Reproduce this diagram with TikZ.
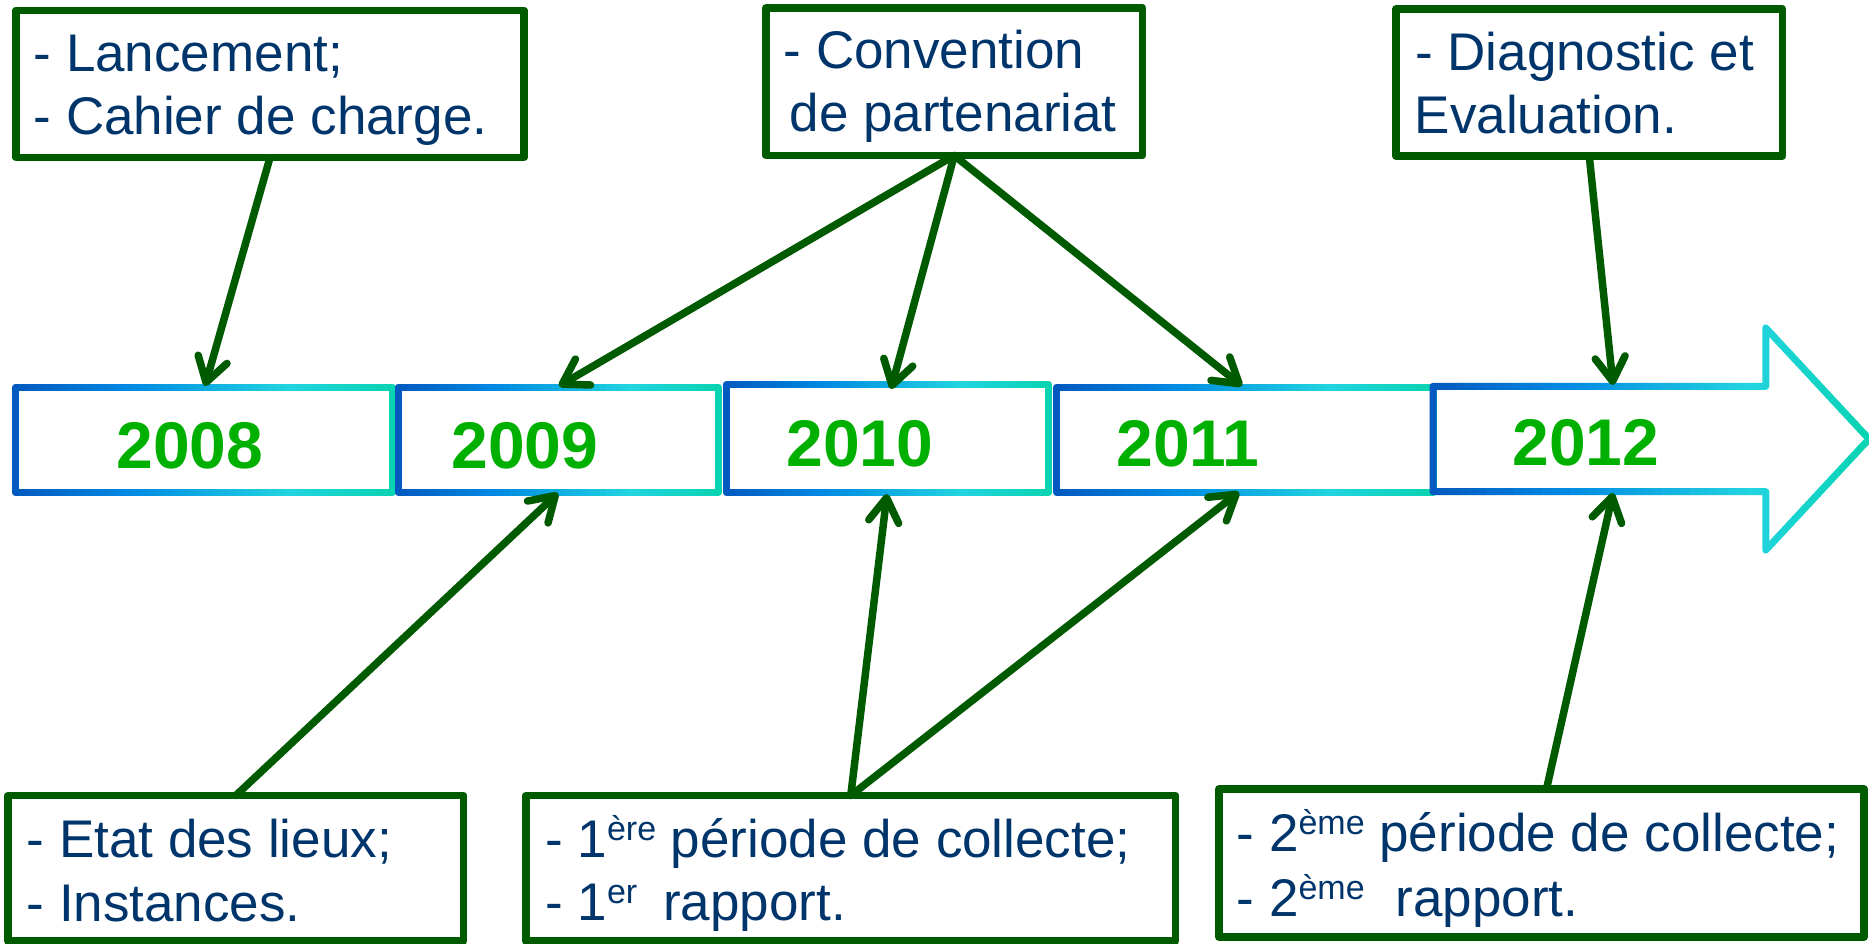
\documentclass[tikz,border=0pt]{standalone}
\usepackage{fontspec}
\setmainfont{Liberation Sans}
\usetikzlibrary{arrows.meta}
\definecolor{navy}{RGB}{0,53,107}
\definecolor{boxgreen}{RGB}{0,90,0}
\definecolor{yeargreen}{RGB}{0,176,0}
\definecolor{gA}{RGB}{0,88,190}
\definecolor{gB}{RGB}{0,136,226}
\definecolor{gC}{RGB}{34,212,224}
\definecolor{gD}{RGB}{8,212,176}
\newcommand\setgradcol[1]{%
  \ifdim #1pt<0.3pt
    \pgfmathsetmacro\gp{#1/0.3*100}\colorlet{gc}{gB!\gp!gA}%
  \else
    \ifdim #1pt<0.72pt
      \pgfmathsetmacro\gp{(#1-0.3)/0.42*100}\colorlet{gc}{gC!\gp!gB}%
    \else
      \pgfmathsetmacro\gp{(#1-0.72)/0.28*100}\colorlet{gc}{gD!\gp!gC}%
    \fi
  \fi}
\newcommand\gradstroke[3]{%
  \foreach \k in {0,...,47}{%
    \pgfmathsetmacro\gxa{#1+(#2-#1)/48*\k}%
    \pgfmathsetmacro\gxb{#1+(#2-#1)/48*(\k+1)+0.8}%
    \pgfmathsetmacro\gt{(\k+0.5)/48}%
    \setgradcol{\gt}%
    \begin{scope}
      \clip (\gxa,-20) rectangle (\gxb,960);
      \draw[tline] #3;
    \end{scope}
  }}
\newcommand\supx[1]{\raisebox{17pt}{\fontsize{34}{34}\selectfont #1}}
\begin{document}
\begin{tikzpicture}[x=1pt,y=-1pt,
  tline/.style={draw=gc, line width=7pt, line join=round},
  callout/.style={draw=boxgreen, fill=white, line width=7.5pt, line join=round,
    inner sep=0pt, outer sep=0pt},
  txt/.style={anchor=base west, inner sep=0pt, text=navy,
    font=\fontsize{53}{63.5}\selectfont},
  year/.style={anchor=base, inner sep=0pt, text=yeargreen,
    font=\fontsize{66}{66}\selectfont\bfseries},
  conn/.style={draw=boxgreen, line width=7.5pt, line cap=round,
    -{Straight Barb[length=24pt,width=30pt,round]}}]
\fill[white] (0,0) rectangle (1869,943);
\useasboundingbox (0,0) rectangle (1869,943);
% timeline
\gradstroke{11}{397}{(15.5,387) rectangle (392.5,492.5)}
\gradstroke{394}{722}{(398,387) rectangle (718,492.5)}
\gradstroke{722}{1053}{(726,384.7) rectangle (1048.7,492.5)}
\gradstroke{1053}{1437}{(1056.7,387) rectangle (1433,492.5)}
\gradstroke{1429}{1876}{(1433,386.3) -- (1765.8,386.3) -- (1765.8,328) -- (1869,439) -- (1765.8,550) -- (1765.8,491.7) -- (1433,491.7) -- cycle}
\node[year] (y08) at (190,468) {2008};
\node[year] (y09) at (525,468) {2009};
\node[year] (y10) at (860,466) {2010};
\node[year] (y11) at (1188,466) {2011};
\node[year] (y12) at (1586,465) {2012};
% callout boxes
\node[callout, minimum width=508pt, minimum height=147.2pt] (A) at (270,83.9) {};
\node[callout, minimum width=376.5pt, minimum height=147.5pt] (B) at (954.25,81.75) {};
\node[callout, minimum width=386.5pt, minimum height=147pt] (C) at (1589.25,82.5) {};
\node[callout, minimum width=455.5pt, minimum height=145.5pt] (D) at (235.75,868.25) {};
\node[callout, minimum width=649.5pt, minimum height=145.5pt] (E) at (850.75,868.25) {};
\node[callout, minimum width=645pt, minimum height=148pt] (F) at (1541.5,863) {};
% texts
\node[txt] (a1) at (33.5,71) {- Lancement;};
\node[txt] (a2) at (33.5,134.5) {- Cahier de charge.};
\node[txt] (b1) at (783.5,68.3) {- Convention};
\node[txt] (b2) at (789.5,131.7) {de partenariat};
\node[txt] (c1) at (1415,70) {- Diagnostic et};
\node[txt] (c2) at (1414.5,133.3) {Evaluation.};
\node[txt] (d1) at (26.5,857.3) {- Etat des lieux;};
\node[txt] (d2) at (26.5,921.7) {- Instances.};
\node[txt] (e1) at (545,857.3) {- 1\supx{ère} période de collecte;};
\node[txt] (e2) at (545,920) {- 1\supx{er}\hspace{26pt}rapport.};
\node[txt] (f1) at (1236.5,851.7) {- 2\supx{ème} période de collecte;};
\node[txt] (f2) at (1236.5,916.7) {- 2\supx{ème}\hspace{31pt}rapport.};
% connector end points on the timeline
\coordinate (t08) at (205,386);
\coordinate (t09a) at (559,386);
\coordinate (t09b) at (558,493);
\coordinate (t10a) at (891,389);
\coordinate (t10b) at (887,494);
\coordinate (t11a) at (1242,386);
\coordinate (t11b) at (1239,492);
\coordinate (t12a) at (1613,385);
\coordinate (t12b) at (1613,493);
% connectors
\draw[conn] (A.south) -- (t08);
\draw[conn] (B.south) -- (t09a);
\draw[conn] (B.south) -- (t10a);
\draw[conn] (B.south) -- (t11a);
\draw[conn] (C.south) -- (t12a);
\draw[conn] (D.north) -- (t09b);
\draw[conn] (E.north) -- (t10b);
\draw[conn] (E.north) -- (t11b);
\draw[conn] ([xshift=5pt]F.north) -- (t12b);
\end{tikzpicture}
\end{document}
